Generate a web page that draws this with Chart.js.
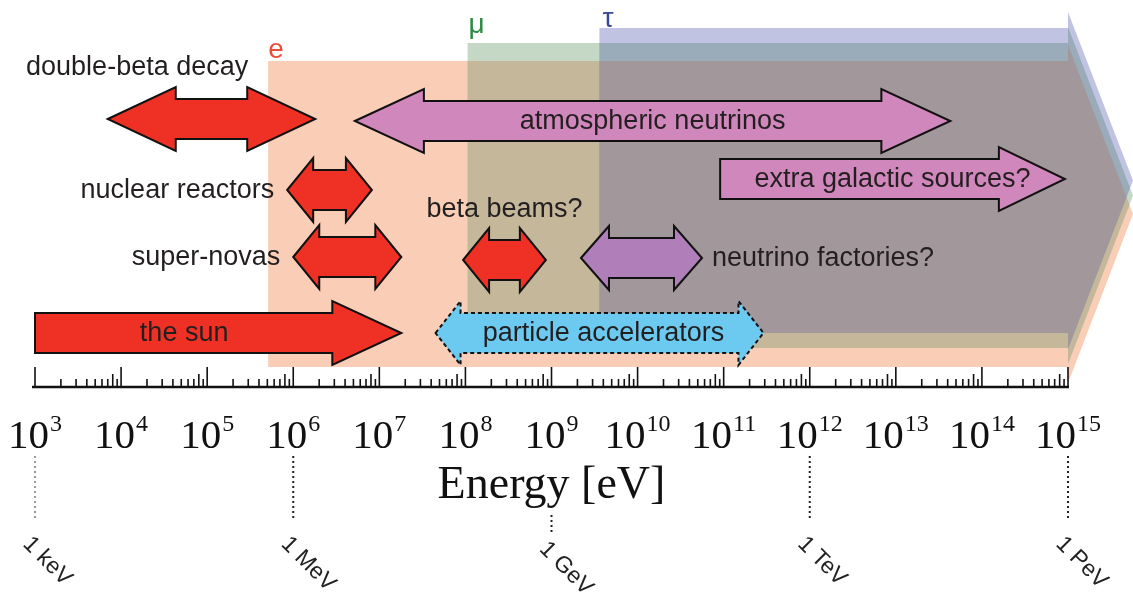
<!DOCTYPE html>
<html>
<head>
<meta charset="utf-8">
<script src="https://cdn.jsdelivr.net/npm/chart.js@4.4.1/dist/chart.umd.min.js"></script>
<style>
  html, body { margin: 0; padding: 0; background: #fff; }
  #wrap { width: 1133px; height: 601px; }
</style>
</head>
<body>
<div id="wrap"><canvas id="energyChart" width="1133" height="601"></canvas></div>
<script>
// --- data (energies in eV) ---
const sources    = ['double-beta decay', 'atmospheric neutrinos', 'extra galactic sources?', 'nuclear reactors',
                    'super-novas', 'beta beams?', 'neutrino factories?', 'the sun', 'particle accelerators'];
const energyLow  = [7e3, 5.2e6, 9.1e10, 8.5e5, 1.0e6, 9.4e7, 2.2e9, 1e3, 4.5e7];
const energyHigh = [1.8e6, 4.3e13, 9.2e14, 8.2e6, 1.8e7, 8.6e8, 5.6e10, 1.8e7, 2.9e11];
const rowLevel   = [26.8, 26.6, 20.8, 19.7, 13.0, 12.7, 12.9, 5.4, 5.4];

// neutrino flavours: band starts at the lepton mass
const flavours      = ['e', 'μ', 'τ'];
const flavourMin    = [5.11e5, 1.06e8, 3.6e9];
const flavourTop    = [32.6, 34.4, 35.9];
const flavourBottom = [2.0, 3.9, 5.4];
const energyMax     = 1e15;

const decades      = [3, 4, 5, 6, 7, 8, 9, 10, 11, 12, 13, 14, 15];
const minorSteps   = [2, 3, 4, 5, 6, 7, 8, 9];
const unitDecades  = [3, 6, 9, 12, 15];
const unitLabels   = ['1 keV', '1 MeV', '1 GeV', '1 TeV', '1 PeV'];

// --- styles ---
const RED = '#ee3124', PINK = '#d087bb', VIOLET = '#b07fba', CYAN = '#6ccaf0';
const arrowStyle = {
  'double-beta decay':       { fill: RED,    both: true,  head: 68, place: 'aboveRight' },
  'atmospheric neutrinos':   { fill: PINK,   both: true,  head: 69, place: 'inside' },
  'extra galactic sources?': { fill: PINK,   both: false, head: 66, place: 'inside' },
  'nuclear reactors':        { fill: RED,    both: true,  head: 26, place: 'left' },
  'super-novas':             { fill: RED,    both: true,  head: 26, place: 'left' },
  'beta beams?':             { fill: RED,    both: true,  head: 26, place: 'above' },
  'neutrino factories?':     { fill: VIOLET, both: true,  head: 28, place: 'right' },
  'the sun':                 { fill: RED,    both: false, head: 69, place: 'inside', dx: -34 },
  'particle accelerators':   { fill: CYAN,   both: true,  head: 25, place: 'inside', dashed: true, dx: 4 }
};
const bandColor    = ['#f9cdb6', '#c5d8c6', '#c0c4e2'];
const overlapEMu   = '#c4b79a';
const overlapMuTau = '#9aacba';
const overlapAll   = '#a2979b';
const letterStyle = [
  { color: '#ef4b3a', dx: 0, dy: -3 },
  { color: '#2b8a46', dx: 1, dy: -10 },
  { color: '#3c4696', dx: 3, dy: -1 }
];
const SANS = '"Liberation Sans", Arial, sans-serif';
const SERIF = '"Liberation Serif", "Times New Roman", serif';
const TEXT = '#231f20';

const arrowSets = sources.map((name, i) => ({
  label: name,
  data: [{ x: energyLow[i], y: rowLevel[i] }, { x: energyHigh[i], y: rowLevel[i] }],
  pointRadius: 0, showLine: false
}));
const bandSets = flavours.map((f, i) => ({
  label: f,
  data: [{ x: flavourMin[i], y: flavourTop[i] }, { x: energyMax, y: flavourBottom[i] }],
  pointRadius: 0, showLine: false
}));

function bandPath(ctx, pts) {
  const xs = pts[0].x, xe = pts[1].x, yt = pts[0].y, yb = pts[1].y, yc = (yt + yb) / 2;
  ctx.beginPath();
  ctx.moveTo(xs, yt);
  ctx.lineTo(xe, yt);
  ctx.lineTo(xe, yt - 16);
  ctx.lineTo(xe + 65, yc);
  ctx.lineTo(xe, yb + 16);
  ctx.lineTo(xe, yb);
  ctx.lineTo(xs, yb);
  ctx.closePath();
}

function arrowPath(ctx, x1, x2, y, st) {
  const hh = 32, sh = 20, hl = st.head;
  ctx.beginPath();
  if (st.both) {
    ctx.moveTo(x1, y);
    ctx.lineTo(x1 + hl, y - hh);
    ctx.lineTo(x1 + hl, y - sh);
  } else {
    ctx.moveTo(x1, y - sh);
  }
  ctx.lineTo(x2 - hl, y - sh);
  ctx.lineTo(x2 - hl, y - hh);
  ctx.lineTo(x2, y);
  ctx.lineTo(x2 - hl, y + hh);
  ctx.lineTo(x2 - hl, y + sh);
  if (st.both) {
    ctx.lineTo(x1 + hl, y + sh);
    ctx.lineTo(x1 + hl, y + hh);
  } else {
    ctx.lineTo(x1, y + sh);
  }
  ctx.closePath();
}

const diagramPlugin = {
  id: 'neutrinoDiagram',
  afterDraw(chart) {
    const ctx = chart.ctx;
    const xs = chart.scales.x;
    const area = chart.chartArea;
    const nA = sources.length;

    // flavour bands
    const bands = flavours.map((f, i) => chart.getDatasetMeta(nA + i).data);
    ctx.save();
    bands.forEach((pts, i) => { bandPath(ctx, pts); ctx.fillStyle = bandColor[i]; ctx.fill(); });
    ctx.save(); bandPath(ctx, bands[0]); ctx.clip();
    bandPath(ctx, bands[1]); ctx.fillStyle = overlapEMu; ctx.fill(); ctx.restore();
    ctx.save(); bandPath(ctx, bands[1]); ctx.clip();
    bandPath(ctx, bands[2]); ctx.fillStyle = overlapMuTau; ctx.fill();
    bandPath(ctx, bands[0]); ctx.clip();
    bandPath(ctx, bands[2]); ctx.fillStyle = overlapAll; ctx.fill(); ctx.restore();

    // flavour letters
    ctx.font = '28px ' + SANS;
    ctx.textAlign = 'left';
    ctx.textBaseline = 'alphabetic';
    bands.forEach((pts, i) => {
      ctx.fillStyle = letterStyle[i].color;
      ctx.fillText(flavours[i], pts[0].x + letterStyle[i].dx, pts[0].y + letterStyle[i].dy);
    });
    ctx.restore();

    // source arrows + labels
    ctx.save();
    sources.forEach((name, i) => {
      const pts = chart.getDatasetMeta(i).data;
      const st = arrowStyle[name];
      const x1 = pts[0].x, x2 = pts[1].x, y = pts[0].y;
      arrowPath(ctx, x1, x2, y, st);
      ctx.fillStyle = st.fill;
      ctx.fill();
      ctx.lineWidth = 2;
      ctx.lineJoin = 'miter';
      ctx.strokeStyle = '#111';
      ctx.setLineDash(st.dashed ? [4, 3] : []);
      ctx.stroke();
      ctx.setLineDash([]);

      ctx.font = '27px ' + SANS;
      ctx.fillStyle = TEXT;
      ctx.textBaseline = 'alphabetic';
      let tx, ty = y + 8;
      if (st.place === 'inside') {
        ctx.textAlign = 'center'; tx = (x1 + x2) / 2 + (st.dx || 0);
      } else if (st.place === 'left') {
        ctx.textAlign = 'right'; tx = x1 - 13;
      } else if (st.place === 'right') {
        ctx.textAlign = 'left'; tx = x2 + 10;
      } else if (st.place === 'above') {
        ctx.textAlign = 'center'; tx = (x1 + x2) / 2; ty = y - 43;
      } else {
        ctx.textAlign = 'right'; tx = x2 - st.head + 1; ty = y - 44;
      }
      ctx.fillText(name, tx, ty);
    });
    ctx.restore();

    // ruler
    ctx.save();
    const yAxis = area.bottom;
    ctx.strokeStyle = '#111';
    ctx.lineWidth = 2.6;
    ctx.beginPath();
    ctx.moveTo(xs.getPixelForValue(Math.pow(10, decades[0])) - 3, yAxis);
    ctx.lineTo(xs.getPixelForValue(Math.pow(10, decades[decades.length - 1])) + 1, yAxis);
    ctx.stroke();
    ctx.lineWidth = 1.6;
    decades.forEach((d, k) => {
      const px = xs.getPixelForValue(Math.pow(10, d));
      ctx.beginPath(); ctx.moveTo(px, yAxis); ctx.lineTo(px, yAxis - 20); ctx.stroke();
      if (k < decades.length - 1) {
        minorSteps.forEach(m => {
          const mx = xs.getPixelForValue(m * Math.pow(10, d));
          const len = m === 8 ? 13 : 8;
          ctx.beginPath(); ctx.moveTo(mx, yAxis); ctx.lineTo(mx, yAxis - len); ctx.stroke();
        });
      }
    });

    // tick labels 10^n
    ctx.fillStyle = '#111';
    ctx.textAlign = 'left';
    ctx.textBaseline = 'alphabetic';
    decades.forEach(d => {
      const px = xs.getPixelForValue(Math.pow(10, d));
      ctx.font = '41px ' + SERIF;
      const wBase = ctx.measureText('10').width;
      ctx.font = '24px ' + SERIF;
      const wExp = ctx.measureText(String(d)).width;
      const start = px - (wBase + 1 + wExp) / 2;
      ctx.font = '41px ' + SERIF;
      ctx.fillText('10', start, 448);
      ctx.font = '24px ' + SERIF;
      ctx.fillText(String(d), start + wBase + 1, 431);
    });

    // axis title
    ctx.font = '46px ' + SERIF;
    ctx.textAlign = 'center';
    ctx.fillText('Energy [eV]', (area.left + area.right) / 2, 498);

    // unit markers
    unitDecades.forEach((d, k) => {
      const px = xs.getPixelForValue(Math.pow(10, d));
      const y0 = d === 9 ? 515 : 456;
      const y1 = d === 9 ? 533 : 521;
      ctx.strokeStyle = k === 0 ? '#9a9a9a' : '#222';
      ctx.lineWidth = 2;
      ctx.setLineDash([2, 3]);
      ctx.beginPath(); ctx.moveTo(px, y0); ctx.lineTo(px, y1); ctx.stroke();
      ctx.setLineDash([]);
      ctx.save();
      ctx.translate(px - 13, d === 9 ? 550 : 545);
      ctx.rotate(Math.PI / 4);
      ctx.font = '23px ' + SANS;
      ctx.fillStyle = '#222';
      ctx.textAlign = 'left';
      ctx.fillText(unitLabels[k], 0, 0);
      ctx.restore();
    });
    ctx.restore();
  }
};

new Chart(document.getElementById('energyChart'), {
  type: 'scatter',
  data: { datasets: arrowSets.concat(bandSets) },
  options: {
    responsive: false,
    animation: false,
    layout: { padding: { left: 35, right: 65, top: 27, bottom: 214 } },
    plugins: { legend: { display: false }, tooltip: { enabled: false } },
    scales: {
      x: { type: 'logarithmic', min: 1e3, max: energyMax, display: false },
      y: { type: 'linear', min: 0, max: 36, display: false }
    }
  },
  plugins: [diagramPlugin]
});
</script>
</body>
</html>
